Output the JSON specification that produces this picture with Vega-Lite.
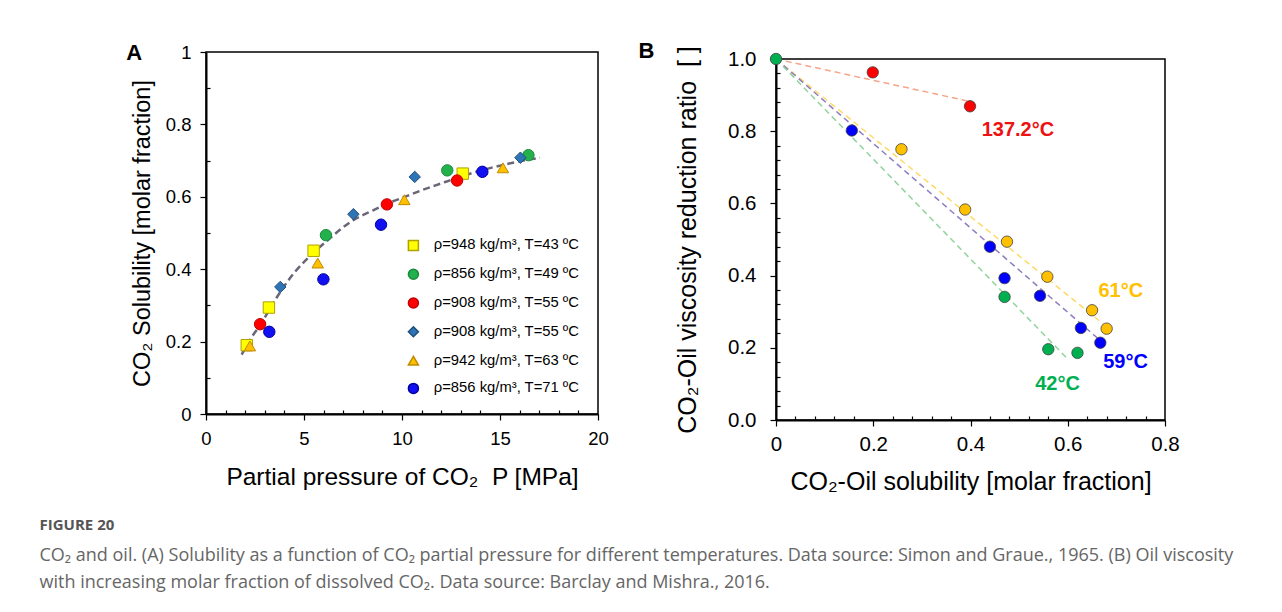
{
  "$schema": "https://vega.github.io/schema/vega-lite/v6.json",
  "padding": {"left": 39, "top": 38, "right": 5, "bottom": 5},
  "background": "white",
  "config": {
    "font": "Liberation Sans",
    "view": {"stroke": "black", "strokeWidth": 1.5},
    "axis": {"domainColor": "black", "domainWidth": 2, "tickColor": "black", "tickWidth": 1.2, "labelColor": "black", "titleFontWeight": "normal", "titleColor": "black", "labelFont": "Liberation Sans", "titleFont": "Liberation Sans", "grid": false, "labelOverlap": false, "labelFlush": false}
  },
  "title": {
    "text": "FIGURE 20",
    "subtitle": ["CO₂ and oil. (A) Solubility as a function of CO₂ partial pressure for different temperatures. Data source: Simon and Graue., 1965. (B) Oil viscosity", "with increasing molar fraction of dissolved CO₂. Data source: Barclay and Mishra., 2016."],
    "orient": "bottom", "anchor": "start", "frame": "bounds",
    "font": "Open Sans", "fontSize": 15, "fontWeight": "bold", "color": "#555555",
    "subtitleFont": "Open Sans", "subtitleFontSize": 18, "subtitleColor": "#666666", "subtitlePadding": 14, "subtitleLineHeight": 27,
    "offset": 23, "dx": -86
  },
  "bounds": "flush",
  "spacing": 178,
  "resolve": {"scale": {"fill": "independent", "stroke": "independent", "shape": "independent", "color": "independent"}, "legend": {"fill": "independent", "stroke": "independent", "shape": "independent", "color": "independent"}},
  "hconcat": [
    {
      "width": 392, "height": 362,
      "title": {"text": "A", "anchor": "start", "frame": "bounds", "fontSize": 22, "fontWeight": "bold", "font": "Liberation Sans", "color": "black", "dx": -4, "dy": 22, "offset": 0},
      "layer": [
        {
          "data": {"values": [
            {"p": 1.82, "s": 0.164}, {"p": 2.3, "s": 0.21}, {"p": 2.76, "s": 0.245}, {"p": 3.2, "s": 0.285}, {"p": 3.8, "s": 0.338},
            {"p": 4.5, "s": 0.39}, {"p": 5.5, "s": 0.446}, {"p": 6.1, "s": 0.475}, {"p": 7.5, "s": 0.535}, {"p": 8.5, "s": 0.562},
            {"p": 9.2, "s": 0.58}, {"p": 10.1, "s": 0.599}, {"p": 11, "s": 0.618}, {"p": 12, "s": 0.637}, {"p": 12.8, "s": 0.652},
            {"p": 14.1, "s": 0.674}, {"p": 15, "s": 0.686}, {"p": 16, "s": 0.698}, {"p": 17.04, "s": 0.708}
          ]},
          "mark": {"type": "line", "strokeDash": [7, 4], "strokeWidth": 2.5, "color": "#6b6578", "interpolate": "monotone"},
          "encoding": {
            "x": {"field": "p", "type": "quantitative", "scale": {"domain": [0, 20], "nice": false},
              "axis": {"title": "Partial pressure of CO₂ \u00a0P [MPa]", "values": [0,1,2,3,4,5,6,7,8,9,10,11,12,13,14,15,16,17,18,19,20], "tickCount": 100,
                "labelExpr": "datum.value % 5 === 0 ? format(datum.value, '~g') : ''", "labelFontSize": 18.5, "titleFontSize": 24.5, "labelOverlap": false,
                "tickSize": {"condition": {"test": "datum.value % 5 === 0", "value": 6}, "value": -4}, "labelPadding": 9, "titlePadding": 18}},
            "y": {"field": "s", "type": "quantitative", "scale": {"domain": [0, 1], "nice": false},
              "axis": {"title": "CO₂ Solubility [molar fraction]", "values": [0,0.1,0.2,0.3,0.4,0.5,0.6,0.7,0.8,0.9,1], "tickCount": 100,
                "labelExpr": "round(datum.value*10) % 2 === 0 ? format(datum.value, '~g') : ''", "labelFontSize": 18.5, "titleFontSize": 23.5, "labelOverlap": false,
                "tickSize": {"condition": {"test": "round(datum.value*10) % 2 === 0", "value": 6}, "value": -4}, "labelPadding": 9, "titlePadding": 11}}
          }
        },
        {
          "data": {"values": [
            {"g": "s43", "p": 2.08, "s": 0.19}, {"g": "s43", "p": 3.21, "s": 0.294}, {"g": "s43", "p": 5.49, "s": 0.451}, {"g": "s43", "p": 13.1, "s": 0.664},
            {"g": "s49", "p": 6.12, "s": 0.494}, {"g": "s49", "p": 12.31, "s": 0.673}, {"g": "s49", "p": 16.45, "s": 0.715},
            {"g": "s55a", "p": 2.76, "s": 0.248}, {"g": "s55a", "p": 9.23, "s": 0.579}, {"g": "s55a", "p": 12.81, "s": 0.645},
            {"g": "s55b", "p": 3.79, "s": 0.351}, {"g": "s55b", "p": 7.52, "s": 0.552}, {"g": "s55b", "p": 10.65, "s": 0.655}, {"g": "s55b", "p": 16.04, "s": 0.708},
            {"g": "s63", "p": 2.24, "s": 0.188}, {"g": "s63", "p": 5.7, "s": 0.417}, {"g": "s63", "p": 10.12, "s": 0.592}, {"g": "s63", "p": 15.15, "s": 0.68},
            {"g": "s71", "p": 3.23, "s": 0.227}, {"g": "s71", "p": 5.99, "s": 0.372}, {"g": "s71", "p": 8.93, "s": 0.523}, {"g": "s71", "p": 14.1, "s": 0.669}
          ]},
          "mark": {"type": "point", "filled": true, "opacity": 1, "strokeWidth": 1, "size": 130},
          "encoding": {
            "x": {"field": "p", "type": "quantitative"},
            "y": {"field": "s", "type": "quantitative"},
            "fill": {"field": "g", "type": "nominal",
              "scale": {"domain": ["s43", "s49", "s55a", "s55b", "s63", "s71"], "range": ["#ffff00", "#22b14c", "#ff0000", "#2e75b6", "#ffc000", "#1010f0"]},
              "legend": {"orient": "none", "legendX": 200, "legendY": 186, "title": null, "labelFontSize": 14.8, "labelFont": "Liberation Sans", "labelColor": "black", "rowPadding": 11.8, "labelOffset": 13, "padding": 0,
                "labelExpr": "{'s43':'ρ=948 kg/m³, T=43 ºC','s49':'ρ=856 kg/m³, T=49 ºC','s55a':'ρ=908 kg/m³, T=55 ºC','s55b':'ρ=908 kg/m³, T=55 ºC','s63':'ρ=942 kg/m³, T=63 ºC','s71':'ρ=856 kg/m³, T=71 ºC'}[datum.value]"}},
            "shape": {"field": "g", "type": "nominal",
              "scale": {"domain": ["s43", "s49", "s55a", "s55b", "s63", "s71"], "range": ["square", "circle", "circle", "diamond", "triangle-up", "circle"]},
              "legend": {"orient": "none", "legendX": 200, "legendY": 186, "title": null, "labelFontSize": 14.8, "labelFont": "Liberation Sans", "labelColor": "black", "rowPadding": 11.8, "labelOffset": 13, "padding": 0,
                "labelExpr": "{'s43':'ρ=948 kg/m³, T=43 ºC','s49':'ρ=856 kg/m³, T=49 ºC','s55a':'ρ=908 kg/m³, T=55 ºC','s55b':'ρ=908 kg/m³, T=55 ºC','s63':'ρ=942 kg/m³, T=63 ºC','s71':'ρ=856 kg/m³, T=71 ºC'}[datum.value]"}},
            "stroke": {"field": "g", "type": "nominal",
              "scale": {"domain": ["s43", "s49", "s55a", "s55b", "s63", "s71"], "range": ["#b0a000", "#1a8a3a", "#c00000", "#1f4e79", "#c08a00", "#0000a0"]},
              "legend": {"orient": "none", "legendX": 200, "legendY": 186, "title": null, "labelFontSize": 14.8, "labelFont": "Liberation Sans", "labelColor": "black", "rowPadding": 11.8, "labelOffset": 13, "padding": 0,
                "labelExpr": "{'s43':'ρ=948 kg/m³, T=43 ºC','s49':'ρ=856 kg/m³, T=49 ºC','s55a':'ρ=908 kg/m³, T=55 ºC','s55b':'ρ=908 kg/m³, T=55 ºC','s63':'ρ=942 kg/m³, T=63 ºC','s71':'ρ=856 kg/m³, T=71 ºC'}[datum.value]"}}
          }
        }
      ]
    },
    {
      "vconcat": [
        {"width": 389, "height": 7, "data": {"values": []}, "mark": "point", "view": {"stroke": null}},
        {
          "width": 389, "height": 361,
          "title": {"text": "B", "anchor": "start", "frame": "bounds", "fontSize": 22, "fontWeight": "bold", "font": "Liberation Sans", "color": "black", "dx": -37, "dy": 17, "offset": 0},
          "layer": [
            {
              "data": {"values": [
                {"g": "r137", "x": 0, "y": 1}, {"g": "r137", "x": 0.4, "y": 0.882},
                {"g": "o61", "x": 0, "y": 1}, {"g": "o61", "x": 0.673, "y": 0.266},
                {"g": "b59", "x": 0, "y": 1}, {"g": "b59", "x": 0.667, "y": 0.22},
                {"g": "g42", "x": 0, "y": 1}, {"g": "g42", "x": 0.597, "y": 0.173}
              ]},
              "mark": {"type": "line", "strokeDash": [6, 4], "strokeWidth": 1.5},
              "encoding": {
                "x": {"field": "x", "type": "quantitative", "scale": {"domain": [0, 0.8], "nice": false},
                  "axis": {"title": "CO₂-Oil solubility [molar fraction]", "values": [0,0.04,0.08,0.12,0.16,0.2,0.24,0.28,0.32,0.36,0.4,0.44,0.48,0.52,0.56,0.6,0.64,0.68,0.72,0.76,0.8], "tickCount": 100,
                    "labelExpr": "round(datum.value*100) % 20 === 0 ? format(datum.value, '~g') : ''", "labelFontSize": 20.5, "titleFontSize": 25, "labelOverlap": false,
                    "tickSize": {"condition": {"test": "round(datum.value*100) % 20 === 0", "value": 6}, "value": -4}, "labelPadding": 8, "titlePadding": 15}},
                "y": {"field": "y", "type": "quantitative", "scale": {"domain": [0, 1], "nice": false},
                  "axis": {"title": "CO₂-Oil viscosity reduction ratio \u00a0[ ]", "values": [0,0.04,0.08,0.12,0.16,0.2,0.24,0.28,0.32,0.36,0.4,0.44,0.48,0.52,0.56,0.6,0.64,0.68,0.72,0.76,0.8,0.84,0.88,0.92,0.96,1], "tickCount": 100,
                    "labelExpr": "round(datum.value*100) % 20 === 0 ? format(datum.value, '.1f') : ''", "labelFontSize": 20.5, "titleFontSize": 25, "labelOverlap": false,
                    "tickSize": {"condition": {"test": "round(datum.value*100) % 20 === 0", "value": 6}, "value": -4}, "labelPadding": 14, "titlePadding": 27}},
                "color": {"field": "g", "type": "nominal", "legend": null,
                  "scale": {"domain": ["r137", "o61", "b59", "g42"], "range": ["#f7a48a", "#ffd966", "#8e7cc3", "#90d49c"]}}
              }
            },
            {
              "data": {"values": [
                {"g": "r137", "x": 0.199, "y": 0.963}, {"g": "r137", "x": 0.399, "y": 0.869},
                {"g": "o61", "x": 0.258, "y": 0.75}, {"g": "o61", "x": 0.389, "y": 0.583}, {"g": "o61", "x": 0.475, "y": 0.494}, {"g": "o61", "x": 0.558, "y": 0.397}, {"g": "o61", "x": 0.65, "y": 0.304}, {"g": "o61", "x": 0.68, "y": 0.253},
                {"g": "b59", "x": 0.156, "y": 0.802}, {"g": "b59", "x": 0.44, "y": 0.48}, {"g": "b59", "x": 0.47, "y": 0.393}, {"g": "b59", "x": 0.543, "y": 0.344}, {"g": "b59", "x": 0.627, "y": 0.255}, {"g": "b59", "x": 0.667, "y": 0.214},
                {"g": "g42", "x": 0, "y": 1}, {"g": "g42", "x": 0.47, "y": 0.341}, {"g": "g42", "x": 0.56, "y": 0.196}, {"g": "g42", "x": 0.62, "y": 0.186}
              ]},
              "mark": {"type": "circle", "opacity": 1, "size": 130, "stroke": "#404040", "strokeWidth": 0.8},
              "encoding": {
                "x": {"field": "x", "type": "quantitative"},
                "y": {"field": "y", "type": "quantitative"},
                "fill": {"field": "g", "type": "nominal", "legend": null,
                  "scale": {"domain": ["r137", "o61", "b59", "g42"], "range": ["#ff0000", "#ffc000", "#0000ff", "#00b050"]}}
              }
            },
            {
              "data": {"values": [
                {"g": "r137", "x": 0.423, "y": 0.804, "t": "137.2°C"},
                {"g": "o61", "x": 0.663, "y": 0.358, "t": "61°C"},
                {"g": "b59", "x": 0.673, "y": 0.16, "t": "59°C"},
                {"g": "g42", "x": 0.533, "y": 0.1, "t": "42°C"}
              ]},
              "mark": {"type": "text", "align": "left", "baseline": "middle", "fontSize": 20, "fontWeight": "bold", "font": "Liberation Sans"},
              "encoding": {
                "x": {"field": "x", "type": "quantitative"},
                "y": {"field": "y", "type": "quantitative"},
                "text": {"field": "t"},
                "color": {"field": "g", "type": "nominal", "legend": null,
                  "scale": {"domain": ["r137", "o61", "b59", "g42"], "range": ["#ee1111", "#ffc000", "#0000ff", "#00b050"]}}
              }
            }
          ],
          "resolve": {"scale": {"color": "independent"}}
        }
      ],
      "spacing": 0,
      "bounds": "flush"
    }
  ]
}
